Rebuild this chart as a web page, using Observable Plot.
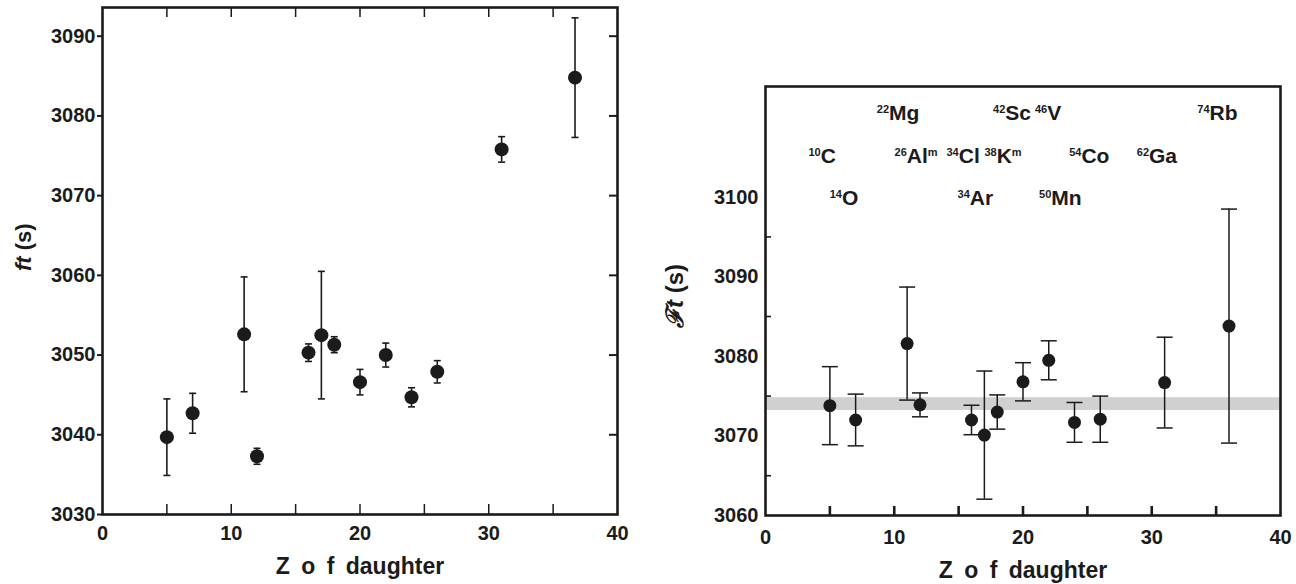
<!DOCTYPE html>
<html><head><meta charset="utf-8">
<script src="https://cdn.jsdelivr.net/npm/d3@7"></script>
<script src="https://cdn.jsdelivr.net/npm/@observablehq/plot@0.6"></script>
<style>
body{margin:0;background:#fff;}
#wrap{display:flex;width:1296px;height:584px;overflow:hidden;}
</style></head><body><div id="wrap"></div>
<script>
// ---- data ----
const leftZ   = [5, 7, 11, 12, 16, 17, 18, 20, 22, 24, 26, 31, 36.7];
const leftFt  = [3039.7, 3042.7, 3052.6, 3037.3, 3050.3, 3052.5, 3051.3, 3046.6, 3050.0, 3044.7, 3047.9, 3075.8, 3084.8];
const leftErr = [4.8, 2.5, 7.2, 1.0, 1.1, 8.0, 1.0, 1.6, 1.5, 1.2, 1.4, 1.6, 7.5];

const rightZ   = [5, 7, 11, 12, 16, 17, 18, 20, 22, 24, 26, 31, 36];
const rightFt  = [3073.8, 3072.0, 3081.6, 3073.9, 3072.0, 3070.1, 3073.0, 3076.8, 3079.5, 3071.7, 3072.1, 3076.7, 3083.8];
const rightErr = [4.9, 3.25, 7.1, 1.5, 1.85, 8.05, 2.15, 2.4, 2.45, 2.5, 2.9, 5.7, 14.7];

const bandLow  = [3073.2];
const bandHigh = [3074.8];

const xTickLabels = [0, 10, 20, 30, 40];
const xTickMarks  = [5, 10, 15, 20, 25, 30, 35];
const leftYTicks  = [3030, 3040, 3050, 3060, 3070, 3080, 3090];
const rightYTicks = [3060, 3070, 3080, 3090, 3100];
const rightYMinor = [3065, 3075, 3085, 3095];

const nuclideMass = ["22", "42", "46", "74", "10", "26", "34", "38", "54", "62", "14", "34", "50"];
const nuclideSym  = ["Mg", "Sc", "V", "Rb", "C", "Al", "Cl", "K", "Co", "Ga", "O", "Ar", "Mn"];
const nuclideMeta = ["", "", "", "", "", "m", "", "m", "", "", "", "", ""];
const nuclideX    = [10.3, 19.15, 21.95, 35.1, 4.4, 11.7, 15.35, 18.45, 25.15, 30.4, 6.1, 16.3, 22.9];
const nuclideY    = [3110.5, 3110.5, 3110.5, 3110.5, 3105.1, 3105.1, 3105.1, 3105.1, 3105.1, 3105.1, 3099.9, 3099.9, 3099.9];

const xTitle = "Z o f daughter";
const leftYTitle = "ft (s)";
const rightYTitle = "\u2131t (s)";

// ---- helpers ----
const INK = "#1b1b1b";
const FONT = "'Liberation Sans', Arial, Helvetica, sans-serif";
const seg = (dx1, dy1, dx2, dy2) => ({draw(ctx) { ctx.moveTo(dx1, dy1); ctx.lineTo(dx2, dy2); }});

function errorMarks(Z, F, E, capHalf, r, sw) {
  const data = Z.map((z, i) => ({z, ft: F[i], err: E[i]}));
  return [
    Plot.ruleX(data, {x: "z", y1: d => d.ft - d.err, y2: d => d.ft + d.err, stroke: INK, strokeWidth: sw}),
    Plot.dot(data, {x: "z", y: d => d.ft + d.err, symbol: seg(-capHalf, 0, capHalf, 0), fill: "none", stroke: INK, strokeWidth: sw}),
    Plot.dot(data, {x: "z", y: d => d.ft - d.err, symbol: seg(-capHalf, 0, capHalf, 0), fill: "none", stroke: INK, strokeWidth: sw}),
    Plot.dot(data, {x: "z", y: "ft", r, fill: INK, stroke: "none"})
  ];
}

function xLabelMarks(dy) {
  return [
    Plot.text(xTickLabels, {x: d => d, frameAnchor: "bottom", dy, text: d => String(d), lineAnchor: "middle", fontSize: 20, fontWeight: "bold", fill: INK}),
    Plot.text([xTitle], {frameAnchor: "bottom", dy: dy + 33, text: d => d, lineAnchor: "middle", fontSize: 23, fontWeight: "bold", fill: INK})
  ];
}

// ---- left panel ----
const LW = 515, LH = 507;
const left = Plot.plot({
  width: 648, height: 584,
  marginLeft: 102, marginRight: 31, marginTop: 7, marginBottom: 70,
  x: {domain: [0, 40], axis: null},
  y: {domain: [3030, 3093.6], axis: null},
  style: {fontFamily: FONT, background: "white", overflow: "visible"},
  marks: [
    ...errorMarks(leftZ, leftFt, leftErr, 3.5, 7, 1.6),
    Plot.ruleX(xTickMarks, {x: d => d, insetTop: LH - 10, stroke: INK, strokeWidth: 1.5}),
    Plot.ruleX(xTickMarks, {x: d => d, insetBottom: LH - 10, stroke: INK, strokeWidth: 1.5}),
    Plot.ruleY(leftYTicks, {y: d => d, insetLeft: -5, insetRight: LW, stroke: INK, strokeWidth: 2}),
    Plot.ruleY(leftYTicks.slice(1), {y: d => d, insetLeft: LW - 8, stroke: INK, strokeWidth: 2}),
    Plot.frame({stroke: INK, strokeWidth: 2.6}),
    Plot.text(leftYTicks, {y: d => d, frameAnchor: "left", dx: -7, textAnchor: "end", lineAnchor: "middle", text: d => String(d), fontSize: 20, fontWeight: "bold", fill: INK}),
    ...xLabelMarks(19),
    Plot.text([leftYTitle], {frameAnchor: "left", dx: -79, dy: 10, rotate: -90, text: d => d, lineAnchor: "middle", fontSize: 22, fontWeight: "bold", fill: INK})
  ]
});

// ---- right panel ----
const RW = 515, RH = 429;
const nuclides = nuclideSym.map((s, i) => ({mass: nuclideMass[i], sym: s, meta: nuclideMeta[i], x: nuclideX[i], y: nuclideY[i]}));
const right = Plot.plot({
  width: 648, height: 584,
  marginLeft: 117, marginRight: 16, marginTop: 86, marginBottom: 69,
  x: {domain: [0, 40], axis: null},
  y: {domain: [3060, 3113.9], axis: null},
  style: {fontFamily: FONT, background: "white", overflow: "visible"},
  marks: [
    Plot.rect(bandLow.map((lo, i) => ({lo, hi: bandHigh[i]})), {y1: "lo", y2: "hi", fill: "#cfd0d2"}),
    ...errorMarks(rightZ, rightFt, rightErr, 8, 6.5, 1.5),
    Plot.ruleX(xTickMarks, {x: d => d, insetTop: RH - 9, stroke: INK, strokeWidth: 2.6}),
    Plot.ruleY(rightYMinor, {y: d => d, insetRight: RW - 6, stroke: INK, strokeWidth: 1.6}),
    Plot.frame({stroke: INK, strokeWidth: 2.6}),
    Plot.text(rightYTicks, {y: d => d, frameAnchor: "left", dx: -7, textAnchor: "end", lineAnchor: "middle", text: d => String(d), fontSize: 20, fontWeight: "bold", fill: INK}),
    ...xLabelMarks(22),
    Plot.text([rightYTitle], {frameAnchor: "left", dx: -90, dy: 27, rotate: -90, text: d => d, lineAnchor: "middle", fontSize: 24, fontWeight: "bold", fill: INK}),
    Plot.text(nuclides, {x: "x", y: "y", text: d => d.mass + d.sym + d.meta, textAnchor: "middle", lineAnchor: "middle", fontSize: 21, fontWeight: "bold", fill: INK})
  ]
});

// ---- rich text: superscript mass numbers / italic titles / spaced axis title ----
const nucLookup = new Map(nuclides.map(d => [d.mass + d.sym + d.meta, d]));
function richify(svg) {
  d3.select(svg).selectAll("text").each(function() {
    const el = d3.select(this);
    const t = this.textContent;
    if (nucLookup.has(t)) {
      const d = nucLookup.get(t);
      el.text(null);
      el.append("tspan").attr("font-size", 11).attr("dy", -7).text(d.mass);
      el.append("tspan").attr("dy", 7).text(d.sym);
      if (d.meta) el.append("tspan").attr("font-size", 11).attr("dy", -7).text(d.meta);
    } else if (t === leftYTitle || t === rightYTitle) {
      const head = t.split(" ")[0];
      el.text(null);
      el.append("tspan").attr("font-style", "italic").text(head);
      el.append("tspan").text("\u00a0(s)");
    } else if (t === xTitle) {
      el.attr("word-spacing", 5);
    }
  });
}
richify(left); richify(right);

document.getElementById("wrap").append(left, right);
</script>
</body></html>
